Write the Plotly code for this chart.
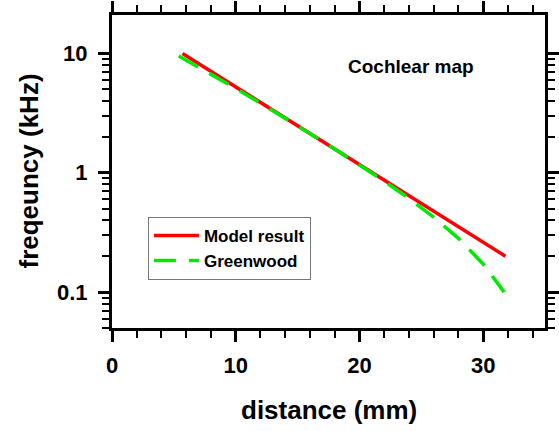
import math
import plotly.graph_objects as go

# Data
model_x = [5.7, 10, 15, 20, 25, 30, 31.8]
model_y = [10.0, 5.26, 2.48, 1.17, 0.555, 0.262, 0.200]

green_x = [5.4, 8, 10, 12, 14, 16, 18, 20, 22, 24, 26, 28, 30, 31.7]
green_y = [9.5, 6.7, 5.1, 3.83, 2.87, 2.13, 1.58, 1.17, 0.85, 0.61, 0.425, 0.282, 0.172, 0.100]

y_tick_vals = [0.1, 1, 10]
y_tick_text = ["0.1", "1", "10"]
y_minor_vals = [0.05, 0.06, 0.07, 0.08, 0.09,
                0.2, 0.3, 0.4, 0.5, 0.6, 0.7, 0.8, 0.9,
                2, 3, 4, 5, 6, 7, 8, 9]

FONT = "Liberation Sans, Arial, sans-serif"

fig = go.Figure()
fig.add_trace(go.Scatter(
    x=model_x, y=model_y, mode="lines", name="Model result",
    line=dict(color="#ff0000", width=3.5),
))
fig.add_trace(go.Scatter(
    x=green_x, y=green_y, mode="lines", name="Greenwood",
    line=dict(color="#00ea00", width=3.5, dash="22px,13px"),
))

fig.add_annotation(
    text="Cochlear map", xref="paper", yref="paper", x=0.69, y=0.834,
    xanchor="center", yanchor="middle",
    showarrow=False, font=dict(family=FONT, size=19, weight="bold", color="black"),
)
# axis titles
fig.add_annotation(
    text="distance (mm)", xref="paper", yref="paper", x=0.5, y=0,
    xanchor="center", yanchor="middle", yshift=-82,
    showarrow=False, font=dict(family=FONT, size=26, weight="bold", color="black"),
)
fig.add_annotation(
    text="freqeuncy (kHz)", xref="paper", yref="paper", x=0, y=0.5,
    xanchor="center", yanchor="middle", xshift=-84, textangle=-90,
    showarrow=False, font=dict(family=FONT, size=26, weight="bold", color="black"),
)

fig.update_xaxes(
    range=[0, 35], dtick=10, tick0=0, automargin=False,
    showline=True, linewidth=3, linecolor="black", mirror="allticks",
    ticks="outside", ticklen=11, tickwidth=3, tickcolor="black",
    minor=dict(dtick=2, ticks="outside", ticklen=7, tickwidth=2, tickcolor="black", showgrid=False),
    showgrid=False, zeroline=False,
    tickfont=dict(family=FONT, size=22, weight="bold", color="black"),
    ticklabelstandoff=5,
)
fig.update_yaxes(
    type="log", range=[math.log10(0.05), math.log10(21)], automargin=False,
    tickvals=y_tick_vals, ticktext=y_tick_text,
    showline=True, linewidth=3, linecolor="black", mirror="allticks",
    ticks="outside", ticklen=11, tickwidth=3, tickcolor="black",
    minor=dict(tickvals=y_minor_vals, ticks="outside", ticklen=7, tickwidth=2, tickcolor="black", showgrid=False),
    showgrid=False, zeroline=False,
    tickfont=dict(family=FONT, size=22, weight="bold", color="black"),
    ticklabelstandoff=6,
)

fig.update_layout(
    width=559, height=431,
    margin=dict(l=112, r=14, t=15, b=103),
    plot_bgcolor="white", paper_bgcolor="white",
    font=dict(family=FONT, weight="bold", color="black"),
    showlegend=True,
    legend=dict(
        x=0.083, y=0.355, xanchor="left", yanchor="top",
        bgcolor="white", bordercolor="#777777", borderwidth=1,
        font=dict(family=FONT, size=17, weight="bold", color="black"),
        tracegroupgap=0, itemwidth=45,
    ),
)

fig.write_html("out.html", config={"displayModeBar": False},
               post_script="document.body.style.margin='0px';")
